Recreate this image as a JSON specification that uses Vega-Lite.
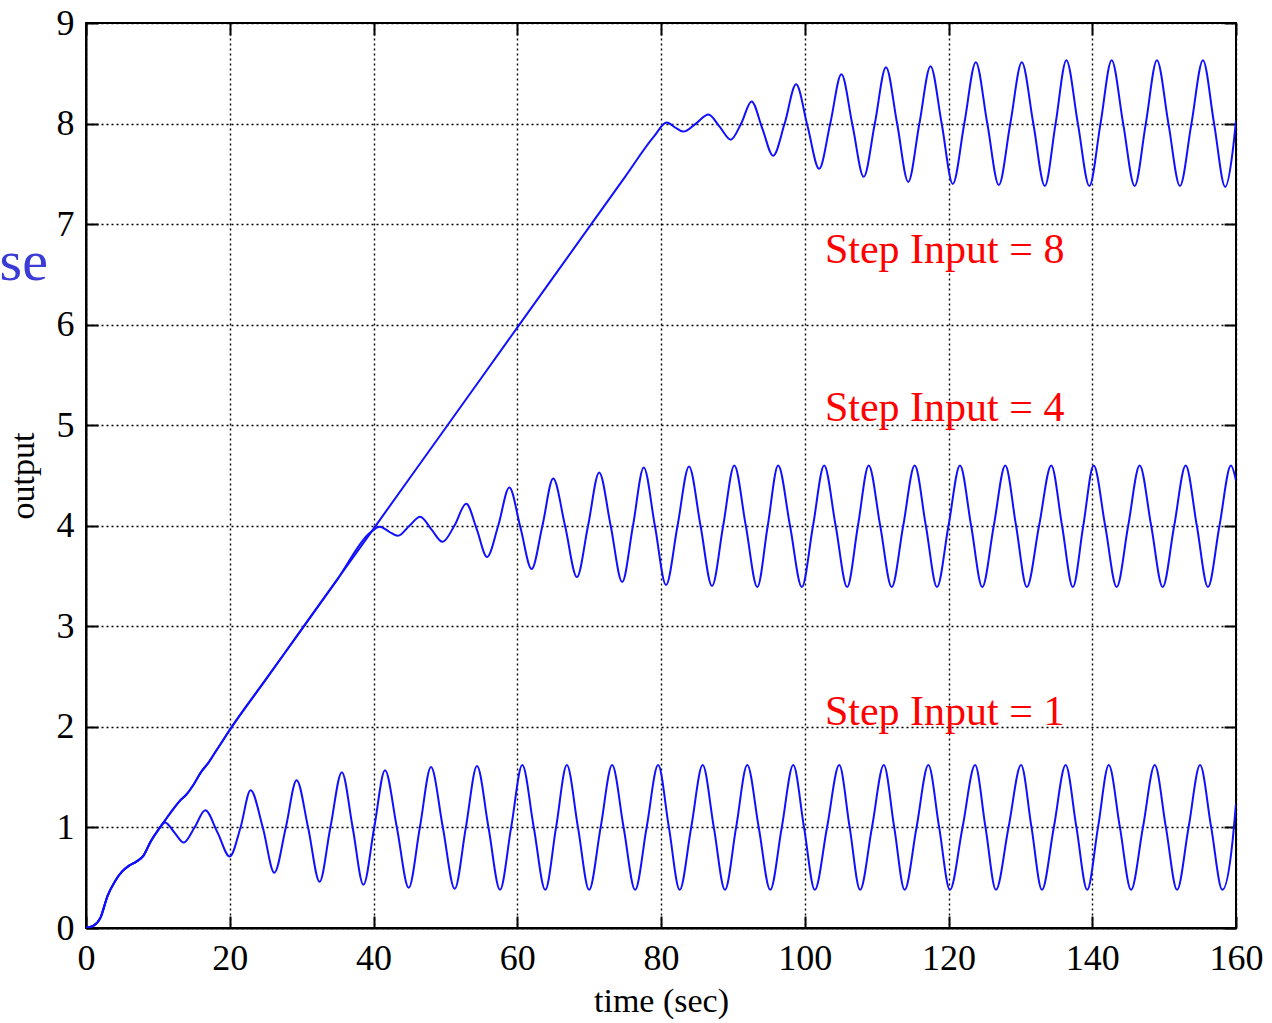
{
  "$schema": "https://vega.github.io/schema/vega-lite/v6.json",
  "width": 1150,
  "height": 905,
  "autosize": {"type": "none"},
  "padding": {"left": 86, "top": 23, "right": 36, "bottom": 95},
  "background": "white",
  "config": {"view": {"stroke": "#000", "strokeWidth": 2}, "font": "Liberation Serif"},
  "datasets": {
    "curves": [
      {"s":"1","t":0,"v":0},{"s":"1","t":1,"v":0.02},{"s":"1","t":2,"v":0.1},{"s":"1","t":3,"v":0.32},{"s":"1","t":4,"v":0.46},{"s":"1","t":5,"v":0.56},{"s":"1","t":6,"v":0.62},{"s":"1","t":7,"v":0.66},{"s":"1","t":8,"v":0.72},{"s":"1","t":9,"v":0.86},{"s":"1","t":10,"v":0.97},{"s":"1","t":11,"v":1.05},
      {"s":"1","t":12.3,"v":0.95},{"s":"1","t":13.6,"v":0.85},{"s":"1","t":15.1,"v":1.0},{"s":"1","t":16.6,"v":1.17},{"s":"1","t":18.3,"v":0.95},{"s":"1","t":20,"v":0.71},{"s":"1","t":21.5,"v":1.0},{"s":"1","t":22.9,"v":1.37},{"s":"1","t":24.6,"v":1.0},{"s":"1","t":26.2,"v":0.55},{"s":"1","t":27.8,"v":1.0},{"s":"1","t":29.3,"v":1.47},{"s":"1","t":30.9,"v":1.0},{"s":"1","t":32.5,"v":0.46},{"s":"1","t":34.0,"v":1.0},{"s":"1","t":35.6,"v":1.55},{"s":"1","t":37.1,"v":1.0},{"s":"1","t":38.6,"v":0.43},{"s":"1","t":40.1,"v":1.0},{"s":"1","t":41.6,"v":1.57},{"s":"1","t":43.25,"v":1.0},{"s":"1","t":44.9,"v":0.4},{"s":"1","t":46.45,"v":1.0},{"s":"1","t":48.0,"v":1.6},{"s":"1","t":49.65,"v":1.0},{"s":"1","t":51.3,"v":0.39},{"s":"1","t":52.85,"v":1.0},{"s":"1","t":54.4,"v":1.61},{"s":"1","t":56.0,"v":1.0},{"s":"1","t":57.6,"v":0.38},{"s":"1","t":59.15,"v":1.0},{"s":"1","t":60.7,"v":1.62},{"s":"1","t":62.3,"v":1.0},{"s":"1","t":63.9,"v":0.38},{"s":"1","t":65.4,"v":1.0},{"s":"1","t":66.9,"v":1.62},{"s":"1","t":68.45,"v":1.0},{"s":"1","t":70.0,"v":0.38},{"s":"1","t":71.6,"v":1.0},{"s":"1","t":73.2,"v":1.62},{"s":"1","t":74.8,"v":1.0},{"s":"1","t":76.4,"v":0.38},{"s":"1","t":78.0,"v":1.0},{"s":"1","t":79.6,"v":1.62},{"s":"1","t":81.1,"v":1.0},{"s":"1","t":82.6,"v":0.38},{"s":"1","t":84.2,"v":1.0},{"s":"1","t":85.8,"v":1.62},{"s":"1","t":87.35,"v":1.0},{"s":"1","t":88.9,"v":0.38},{"s":"1","t":90.45,"v":1.0},{"s":"1","t":92.0,"v":1.62},{"s":"1","t":93.6,"v":1.0},{"s":"1","t":95.2,"v":0.38},{"s":"1","t":96.8,"v":1.0},{"s":"1","t":98.4,"v":1.62},{"s":"1","t":99.9,"v":1.0},{"s":"1","t":101.4,"v":0.38},{"s":"1","t":103.1,"v":1.0},{"s":"1","t":104.8,"v":1.62},{"s":"1","t":106.25,"v":1.0},{"s":"1","t":107.7,"v":0.38},{"s":"1","t":109.35,"v":1.0},{"s":"1","t":111.0,"v":1.62},{"s":"1","t":112.45,"v":1.0},{"s":"1","t":113.9,"v":0.38},{"s":"1","t":115.55,"v":1.0},{"s":"1","t":117.2,"v":1.62},{"s":"1","t":118.7,"v":1.0},{"s":"1","t":120.2,"v":0.38},{"s":"1","t":121.95,"v":1.0},{"s":"1","t":123.7,"v":1.62},{"s":"1","t":125.15,"v":1.0},{"s":"1","t":126.6,"v":0.38},{"s":"1","t":128.35,"v":1.0},{"s":"1","t":130.1,"v":1.62},{"s":"1","t":131.55,"v":1.0},{"s":"1","t":133.0,"v":0.38},{"s":"1","t":134.65,"v":1.0},{"s":"1","t":136.3,"v":1.62},{"s":"1","t":137.8,"v":1.0},{"s":"1","t":139.3,"v":0.38},{"s":"1","t":140.8,"v":1.0},{"s":"1","t":142.3,"v":1.62},{"s":"1","t":143.85,"v":1.0},{"s":"1","t":145.4,"v":0.38},{"s":"1","t":147.05,"v":1.0},{"s":"1","t":148.7,"v":1.62},{"s":"1","t":150.25,"v":1.0},{"s":"1","t":151.8,"v":0.38},{"s":"1","t":153.4,"v":1.0},{"s":"1","t":155.0,"v":1.62},{"s":"1","t":156.55,"v":1.0},{"s":"1","t":158.1,"v":0.38},{"s":"1","t":159.5,"v":0.85},{"s":"1","t":160,"v":1.24},

      {"s":"4","t":0,"v":0},{"s":"4","t":1,"v":0.02},{"s":"4","t":2,"v":0.1},{"s":"4","t":3,"v":0.32},{"s":"4","t":4,"v":0.46},{"s":"4","t":5,"v":0.56},{"s":"4","t":6,"v":0.62},{"s":"4","t":7,"v":0.66},{"s":"4","t":8,"v":0.72},{"s":"4","t":9,"v":0.86},{"s":"4","t":10,"v":0.97},{"s":"4","t":11,"v":1.07},{"s":"4","t":12,"v":1.17},{"s":"4","t":13,"v":1.26},{"s":"4","t":14,"v":1.33},{"s":"4","t":15,"v":1.43},{"s":"4","t":16,"v":1.55},{"s":"4","t":17,"v":1.64},{"s":"4","t":18,"v":1.75},{"s":"4","t":19,"v":1.86},{"s":"4","t":20,"v":1.97},{"s":"4","t":25,"v":2.47},{"s":"4","t":30,"v":2.97},{"s":"4","t":35,"v":3.47},{"s":"4","t":39.5,"v":3.93},
      {"s":"4","t":40.9,"v":3.99},{"s":"4","t":42.2,"v":3.94},{"s":"4","t":43.4,"v":3.9},{"s":"4","t":45,"v":4.0},{"s":"4","t":46.5,"v":4.09},{"s":"4","t":48,"v":3.97},{"s":"4","t":49.6,"v":3.84},{"s":"4","t":51.25,"v":4.0},{"s":"4","t":52.9,"v":4.22},{"s":"4","t":54.35,"v":3.97},{"s":"4","t":55.8,"v":3.69},{"s":"4","t":57.35,"v":4.0},{"s":"4","t":58.9,"v":4.38},{"s":"4","t":60.45,"v":3.98},{"s":"4","t":62.0,"v":3.57},{"s":"4","t":63.5,"v":4.0},{"s":"4","t":65.0,"v":4.47},{"s":"4","t":66.65,"v":4.0},{"s":"4","t":68.3,"v":3.49},{"s":"4","t":69.85,"v":4.0},{"s":"4","t":71.4,"v":4.53},{"s":"4","t":73.0,"v":4.0},{"s":"4","t":74.6,"v":3.44},{"s":"4","t":76.1,"v":4.0},{"s":"4","t":77.6,"v":4.58},{"s":"4","t":79.15,"v":4.0},{"s":"4","t":80.7,"v":3.41},{"s":"4","t":82.3,"v":4.0},{"s":"4","t":83.9,"v":4.59},{"s":"4","t":85.5,"v":4.0},{"s":"4","t":87.1,"v":3.4},{"s":"4","t":88.65,"v":4.0},{"s":"4","t":90.2,"v":4.6},{"s":"4","t":91.8,"v":4.0},{"s":"4","t":93.4,"v":3.39},{"s":"4","t":94.85,"v":4.0},{"s":"4","t":96.3,"v":4.6},{"s":"4","t":97.95,"v":4.0},{"s":"4","t":99.6,"v":3.39},{"s":"4","t":101.15,"v":4.0},{"s":"4","t":102.7,"v":4.6},{"s":"4","t":104.3,"v":4.0},{"s":"4","t":105.9,"v":3.39},{"s":"4","t":107.4,"v":4.0},{"s":"4","t":108.9,"v":4.6},{"s":"4","t":110.5,"v":4.0},{"s":"4","t":112.1,"v":3.39},{"s":"4","t":113.7,"v":4.0},{"s":"4","t":115.3,"v":4.6},{"s":"4","t":116.85,"v":4.0},{"s":"4","t":118.4,"v":3.39},{"s":"4","t":120.0,"v":4.0},{"s":"4","t":121.6,"v":4.6},{"s":"4","t":123.15,"v":4.0},{"s":"4","t":124.7,"v":3.39},{"s":"4","t":126.3,"v":4.0},{"s":"4","t":127.9,"v":4.6},{"s":"4","t":129.4,"v":4.0},{"s":"4","t":130.9,"v":3.39},{"s":"4","t":132.6,"v":4.0},{"s":"4","t":134.3,"v":4.6},{"s":"4","t":135.8,"v":4.0},{"s":"4","t":137.3,"v":3.39},{"s":"4","t":138.75,"v":4.0},{"s":"4","t":140.2,"v":4.6},{"s":"4","t":141.8,"v":4.0},{"s":"4","t":143.4,"v":3.39},{"s":"4","t":145.0,"v":4.0},{"s":"4","t":146.6,"v":4.6},{"s":"4","t":148.2,"v":4.0},{"s":"4","t":149.8,"v":3.39},{"s":"4","t":151.4,"v":4.0},{"s":"4","t":153.0,"v":4.6},{"s":"4","t":154.55,"v":4.0},{"s":"4","t":156.1,"v":3.39},{"s":"4","t":157.7,"v":4.0},{"s":"4","t":159.3,"v":4.6},{"s":"4","t":160,"v":4.45},

      {"s":"8","t":0,"v":0},{"s":"8","t":1,"v":0.02},{"s":"8","t":2,"v":0.1},{"s":"8","t":3,"v":0.32},{"s":"8","t":4,"v":0.46},{"s":"8","t":5,"v":0.56},{"s":"8","t":6,"v":0.62},{"s":"8","t":7,"v":0.66},{"s":"8","t":8,"v":0.72},{"s":"8","t":9,"v":0.86},{"s":"8","t":10,"v":0.97},{"s":"8","t":11,"v":1.07},{"s":"8","t":12,"v":1.17},{"s":"8","t":13,"v":1.26},{"s":"8","t":14,"v":1.33},{"s":"8","t":15,"v":1.43},{"s":"8","t":16,"v":1.55},{"s":"8","t":17,"v":1.64},{"s":"8","t":18,"v":1.75},{"s":"8","t":19,"v":1.86},{"s":"8","t":20,"v":1.97},{"s":"8","t":25,"v":2.47},{"s":"8","t":30,"v":2.97},{"s":"8","t":35,"v":3.47},{"s":"8","t":40,"v":3.97},{"s":"8","t":45,"v":4.47},{"s":"8","t":50,"v":4.97},{"s":"8","t":55,"v":5.47},{"s":"8","t":60,"v":5.97},{"s":"8","t":65,"v":6.47},{"s":"8","t":70,"v":6.97},{"s":"8","t":75,"v":7.47},{"s":"8","t":79,"v":7.87},
      {"s":"8","t":80.8,"v":8.01},{"s":"8","t":82,"v":7.96},{"s":"8","t":83.1,"v":7.92},{"s":"8","t":84.85,"v":8.0},{"s":"8","t":86.6,"v":8.09},{"s":"8","t":88.15,"v":7.97},{"s":"8","t":89.7,"v":7.84},{"s":"8","t":91.15,"v":8.0},{"s":"8","t":92.6,"v":8.22},{"s":"8","t":94.1,"v":7.95},{"s":"8","t":95.6,"v":7.68},{"s":"8","t":97.2,"v":8.0},{"s":"8","t":98.8,"v":8.39},{"s":"8","t":100.4,"v":7.97},{"s":"8","t":102.0,"v":7.55},{"s":"8","t":103.55,"v":8.0},{"s":"8","t":105.1,"v":8.49},{"s":"8","t":106.65,"v":7.98},{"s":"8","t":108.2,"v":7.47},{"s":"8","t":109.75,"v":8.0},{"s":"8","t":111.3,"v":8.56},{"s":"8","t":112.85,"v":8.0},{"s":"8","t":114.4,"v":7.42},{"s":"8","t":115.95,"v":8.0},{"s":"8","t":117.5,"v":8.57},{"s":"8","t":119.05,"v":8.0},{"s":"8","t":120.6,"v":7.4},{"s":"8","t":122.2,"v":8.0},{"s":"8","t":123.8,"v":8.61},{"s":"8","t":125.4,"v":8.0},{"s":"8","t":127.0,"v":7.39},{"s":"8","t":128.6,"v":8.0},{"s":"8","t":130.2,"v":8.61},{"s":"8","t":131.8,"v":8.0},{"s":"8","t":133.4,"v":7.38},{"s":"8","t":134.9,"v":8.0},{"s":"8","t":136.4,"v":8.63},{"s":"8","t":138.0,"v":8.0},{"s":"8","t":139.6,"v":7.38},{"s":"8","t":141.15,"v":8.0},{"s":"8","t":142.7,"v":8.63},{"s":"8","t":144.3,"v":8.0},{"s":"8","t":145.9,"v":7.38},{"s":"8","t":147.45,"v":8.0},{"s":"8","t":149.0,"v":8.63},{"s":"8","t":150.6,"v":8.0},{"s":"8","t":152.2,"v":7.38},{"s":"8","t":153.8,"v":8.0},{"s":"8","t":155.4,"v":8.63},{"s":"8","t":156.95,"v":8.0},{"s":"8","t":158.5,"v":7.37},{"s":"8","t":159.5,"v":7.7},{"s":"8","t":160,"v":8.03}
    ],
    "labels": [
      {"t": 102.8, "v": 6.61, "label": "Step Input = 8"},
      {"t": 102.8, "v": 5.04, "label": "Step Input = 4"},
      {"t": 102.8, "v": 2.02, "label": "Step Input = 1"}
    ],
    "side": [
      {"t": -5.3, "v": 6.44, "label": "se"}
    ]
  },
  "layer": [
    {
      "data": {"name": "curves"},
      "mark": {"type": "line", "interpolate": "monotone", "color": "#1010ff", "strokeWidth": 2, "clip": true},
      "encoding": {
        "x": {"field": "t", "type": "quantitative", "scale": {"domain": [0, 160], "nice": false},
          "axis": {"orient": "bottom", "values": [0,20,40,60,80,100,120,140,160], "grid": true, "gridColor": "#000", "gridDash": [2, 3], "gridWidth": 1.4, "gridOpacity": 1,
            "domainColor": "#000", "domainWidth": 2, "tickColor": "#000", "tickWidth": 2, "tickSize": -12,
            "labelFont": "Liberation Serif", "labelFontSize": 36, "labelColor": "#000", "labelPadding": 25, "labelFlush": false,
            "title": "time (sec)", "titleFont": "Liberation Serif", "titleFontSize": 34, "titleFontWeight": "normal", "titleColor": "#000", "titlePadding": 8}},
        "y": {"field": "v", "type": "quantitative", "scale": {"domain": [0, 9], "nice": false},
          "axis": {"orient": "left", "values": [0,1,2,3,4,5,6,7,8,9], "grid": true, "gridColor": "#000", "gridDash": [2, 3], "gridWidth": 1.4, "gridOpacity": 1,
            "domainColor": "#000", "domainWidth": 2, "tickColor": "#000", "tickWidth": 2, "tickSize": -12,
            "labelFont": "Liberation Serif", "labelFontSize": 36, "labelColor": "#000", "labelPadding": 24, "labelFlush": false,
            "title": "output", "titleFont": "Liberation Serif", "titleFontSize": 34, "titleFontWeight": "normal", "titleColor": "#000", "titlePadding": 16}},
        "detail": {"field": "s", "type": "nominal"}
      }
    },
    {
      "data": {"name": "labels"},
      "mark": {"type": "text", "align": "left", "baseline": "alphabetic", "color": "#ff0000", "fontSize": 42, "font": "Liberation Serif"},
      "encoding": {
        "x": {"field": "t", "type": "quantitative", "scale": {"domain": [0, 160], "nice": false},
          "axis": {"orient": "top", "values": [0,20,40,60,80,100,120,140,160], "grid": false, "domain": false, "labels": false, "title": null, "tickColor": "#000", "tickWidth": 2, "tickSize": -12}},
        "y": {"field": "v", "type": "quantitative", "scale": {"domain": [0, 9], "nice": false},
          "axis": {"orient": "right", "values": [0,1,2,3,4,5,6,7,8,9], "grid": false, "domain": false, "labels": false, "title": null, "tickColor": "#000", "tickWidth": 2, "tickSize": -12}},
        "text": {"field": "label", "type": "nominal"}
      }
    },
    {
      "data": {"name": "side"},
      "mark": {"type": "text", "align": "right", "baseline": "alphabetic", "color": "#3b3bd6", "fontSize": 58, "font": "Liberation Serif"},
      "encoding": {
        "x": {"field": "t", "type": "quantitative", "scale": {"domain": [0, 160], "nice": false}, "axis": null},
        "y": {"field": "v", "type": "quantitative", "scale": {"domain": [0, 9], "nice": false}, "axis": null},
        "text": {"field": "label", "type": "nominal"}
      }
    }
  ],
  "resolve": {"axis": {"x": "independent", "y": "independent"}}
}
